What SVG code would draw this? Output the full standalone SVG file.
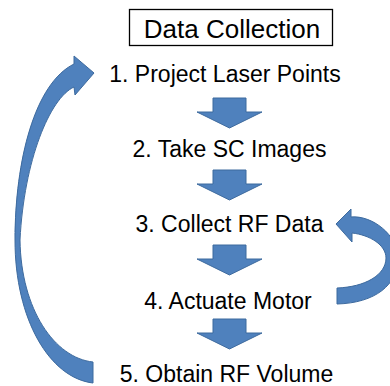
<svg xmlns="http://www.w3.org/2000/svg" width="390" height="386" viewBox="0 0 390 386">
<style>
text { font-family: "Liberation Sans", Arial, sans-serif; fill: #000; text-anchor: middle; }
.step { font-size: 23px; }
.title { font-size: 26px; }
.arrow { fill: #4F81BD; stroke: #3D6A9E; stroke-width: 1; stroke-linejoin: miter; }
</style>
<defs>
<path id="down" d="M -16.5 0 H 16.5 V 14 H 32.5 L 0 30 L -32.5 14 H -16.5 Z"/>
</defs>
<rect width="390" height="386" fill="#fff"/>
<g id="title">
<rect x="129.5" y="9.5" width="203" height="36" fill="#fff" stroke="#000" stroke-width="1.3"/>
<text class="title" x="232" y="38">Data Collection</text>
</g>
<g id="step1"><text class="step" x="225" y="82">1. Project Laser Points</text></g>
<g id="step2"><text class="step" x="229.5" y="157">2. Take SC Images</text></g>
<g id="step3"><text class="step" x="229.5" y="232">3. Collect RF Data</text></g>
<g id="step4"><text class="step" x="228" y="309">4. Actuate Motor</text></g>
<g id="step5"><text class="step" x="226.5" y="382">5. Obtain RF Volume</text></g>
<g id="connectors">
<use href="#down" class="arrow" x="229.5" y="98"/>
<use href="#down" class="arrow" x="229.5" y="170"/>
<use href="#down" class="arrow" x="229.5" y="245"/>
<use href="#down" class="arrow" x="229.5" y="319"/>
<path class="arrow" d="M 93 383 C 50 378 15 320 15 240 C 15 160 35 83 74 64 L 74 56 L 94 73 L 75 95 L 74 87 C 50 98 24 160 20 240 C 21 310 55 358 93 362 Z"/>
<path class="arrow" d="M 337 304 C 375 303 398 285 398 258 C 398 235 372 215 351 217 L 351 209 L 336 224 L 352 242 L 352 233 C 370 235 386 245 386 258 C 386 275 365 287 337 288 Z"/>
</g>
</svg>
